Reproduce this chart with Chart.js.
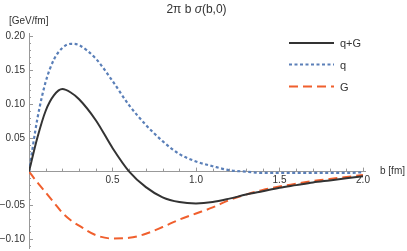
<!DOCTYPE html>
<html>
<head>
<meta charset="utf-8">
<script src="https://cdn.jsdelivr.net/npm/chart.js@4.4.1/dist/chart.umd.min.js"></script>
<style>
  html, body { margin: 0; padding: 0; background: #fff; }
  canvas { display: block; }
</style>
</head>
<body>
<canvas id="c" width="407" height="251"></canvas>
<script>
// impact parameter b [fm]
const bValues = [0, 0.05, 0.1, 0.15, 0.2, 0.25, 0.3, 0.4, 0.5, 0.6, 0.7, 0.8, 0.9, 1.0,
                 1.1, 1.2, 1.3, 1.4, 1.5, 1.6, 1.7, 1.8, 1.9, 2.0];
// 2pi b sigma(b,0) [GeV/fm]
const qPlusG = [0, 0.05, 0.09, 0.113, 0.122, 0.117, 0.107, 0.076, 0.035, 0.0, -0.023, -0.038,
                -0.045, -0.047, -0.045, -0.04, -0.034, -0.029, -0.024, -0.020, -0.016, -0.013, -0.010, -0.007];
const qOnly = [0, 0.078, 0.133, 0.166, 0.183, 0.189, 0.187, 0.167, 0.134, 0.098, 0.069, 0.045,
               0.026, 0.015, 0.008, 0.002, 0.0, -0.002, -0.002, -0.002, -0.002, -0.002, -0.002, -0.001];
const gOnly = [0, -0.016, -0.031, -0.046, -0.061, -0.072, -0.080, -0.094, -0.099, -0.098, -0.092, -0.082,
               -0.071, -0.062, -0.053, -0.042, -0.034, -0.027, -0.022, -0.018, -0.014, -0.011, -0.008, -0.005];
const seriesNames = ["q+G", "q", "G"];
const yTickStep = 0.05;
const xTickStep = 0.5;

const pts = arr => arr.map((v, i) => ({ x: bValues[i], y: v }));
const FONT = "'Liberation Sans', Arial, sans-serif";

// mathematica style inward ticks, x labels, title and legend
const decor = {
  id: "decor",
  beforeDatasetsDraw(chart) {
    const { ctx, scales: { x, y } } = chart;
    const x0 = x.getPixelForValue(0);
    const y0 = y.getPixelForValue(0);
    ctx.save();
    ctx.strokeStyle = "#999";
    ctx.lineWidth = 1;
    ctx.beginPath();
    for (let k = -11; k <= 20; k++) {
      if (k === 0) continue;
      const py = Math.round(y.getPixelForValue(k / 100)) + 0.5;
      const len = k % 5 === 0 ? 4 : 2;
      ctx.moveTo(x0, py);
      ctx.lineTo(x0 + len, py);
    }
    for (let k = 1; k <= 20; k++) {
      const px = Math.round(x.getPixelForValue(k / 10)) + 0.5;
      const len = k % 5 === 0 ? 4 : 3;
      ctx.moveTo(px, y0);
      ctx.lineTo(px, y0 - len);
    }
    ctx.stroke();
    // x tick labels below the axis line
    ctx.fillStyle = "#333";
    ctx.font = "10px " + FONT;
    ctx.textAlign = "center";
    ctx.textBaseline = "top";
    x.ticks.forEach(t => {
      if (Math.abs(t.value) < 1e-9) return;
      ctx.fillText(t.value.toFixed(1), x.getPixelForValue(t.value), y0 + 4);
    });
    ctx.restore();
  },
  afterDraw(chart) {
    const { ctx } = chart;
    ctx.save();
    ctx.fillStyle = "#333";
    ctx.textBaseline = "middle";
    // axis labels
    ctx.font = "10px " + FONT;
    ctx.textAlign = "left";
    ctx.fillText("[GeV/fm]", 9, 21);
    ctx.fillText("b [fm]", 380, 171);
    // plot label, sigma in italic
    const parts = [["2\u03c0 b ", "normal"], ["\u03c3", "italic"], ["(b,0)", "normal"]];
    let w = 0;
    parts.forEach(p => {
      ctx.font = p[1] + " 12px " + FONT;
      w += ctx.measureText(p[0]).width;
    });
    let tx = 196.5 - w / 2;
    parts.forEach(p => {
      ctx.font = p[1] + " 12px " + FONT;
      ctx.fillText(p[0], tx, 10);
      tx += ctx.measureText(p[0]).width;
    });
    // legend
    const rows = [43, 64.5, 86.5];
    chart.data.datasets.forEach((ds, i) => {
      ctx.strokeStyle = ds.borderColor;
      ctx.lineWidth = ds.borderWidth;
      ctx.setLineDash(ds.borderDash || []);
      ctx.beginPath();
      ctx.moveTo(289, rows[i]);
      ctx.lineTo(334, rows[i]);
      ctx.stroke();
      ctx.setLineDash([]);
      ctx.font = "11px " + FONT;
      ctx.fillText(ds.label, 340, rows[i] + 1);
    });
    ctx.restore();
  }
};

new Chart(document.getElementById("c"), {
  type: "line",
  data: {
    datasets: [
      { label: seriesNames[0], data: pts(qPlusG), borderColor: "#333333", borderWidth: 2 },
      { label: seriesNames[1], data: pts(qOnly), borderColor: "#5a7fb8", borderWidth: 2.2, borderDash: [3, 2.5] },
      { label: seriesNames[2], data: pts(gOnly), borderColor: "#f05f2d", borderWidth: 2, borderDash: [9, 5] }
    ]
  },
  options: {
    responsive: false,
    animation: false,
    devicePixelRatio: 1,
    layout: { padding: { top: 33, bottom: 3, left: 0, right: 42 } },
    elements: {
      point: { radius: 0 },
      line: { cubicInterpolationMode: "monotone", fill: false }
    },
    plugins: { legend: { display: false }, title: { display: false }, tooltip: { enabled: false } },
    scales: {
      x: {
        type: "linear",
        min: 0,
        max: 2.012,
        position: { y: 0 },
        afterFit: s => { s.height = 0; s.paddingLeft = 0; s.paddingRight = 0; },
        grid: { display: false, drawTicks: false },
        border: { display: true, color: "#999", width: 1 },
        ticks: { stepSize: xTickStep, includeBounds: false, display: false }
      },
      y: {
        type: "linear",
        min: -0.113,
        max: 0.205,
        position: "left",
        afterFit: s => { s.width = 29; s.paddingTop = 0; s.paddingBottom = 0; },
        grid: { display: false, drawTicks: false },
        border: { display: true, color: "#999", width: 1 },
        ticks: {
          stepSize: yTickStep,
          includeBounds: false,
          padding: 4,
          color: "#333",
          font: { family: FONT, size: 10 },
          callback: v => {
            const r = Math.round(v * 100) / 100;
            if (r === 0) return "";
            return r.toFixed(2).replace("-", "\u2212");
          }
        }
      }
    }
  },
  plugins: [decor]
});
</script>
</body>
</html>
